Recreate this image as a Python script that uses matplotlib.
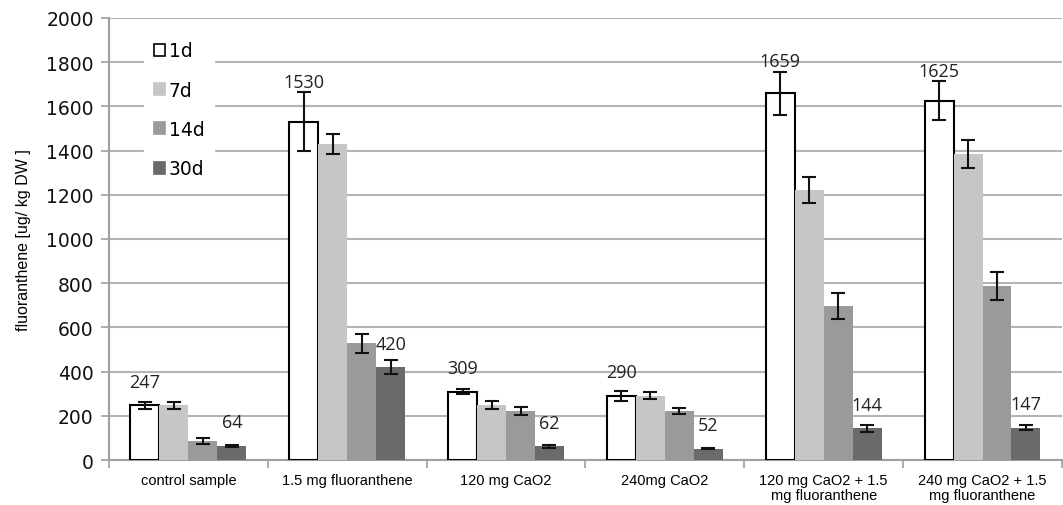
import numpy as np
import matplotlib
matplotlib.use("Agg")
import matplotlib.pyplot as plt

# groups on the x axis
categories = ["control sample", "1.5 mg fluoranthene", "120 mg CaO2", "240mg CaO2",
              "120 mg CaO2 + 1.5\nmg fluoranthene", "240 mg CaO2 + 1.5\nmg fluoranthene"]
series = ["1d", "7d", "14d", "30d"]

# mean values per series [ug/kg DW]
d1 = [247, 1530, 309, 290, 1659, 1625]
d7 = [248, 1430, 249, 290, 1222, 1385]
d14 = [86, 529, 222, 222, 697, 787]
d30 = [64, 420, 62, 52, 144, 147]

# error bar half widths
e1 = [17, 133, 12, 22, 98, 88]
e7 = [15, 45, 18, 16, 58, 62]
e14 = [15, 43, 18, 15, 58, 62]
e30 = [5, 32, 6, 4, 15, 12]

values = [d1, d7, d14, d30]
errors = [e1, e7, e14, e30]
fills = ["white", "#c6c6c6", "#9a9a9a", "#6a6a6a"]
edges = ["black", "#c6c6c6", "#9a9a9a", "#6a6a6a"]
labelled = [0, 3]  # only 1d and 30d get value labels

plt.rcParams['font.family'] = ['Liberation Sans', 'DejaVu Sans']

fig = plt.figure(figsize=(10.63, 5.06), dpi=100)
ax = fig.add_axes([0.1025, 0.0889, 0.8965, 0.8736])

x = np.arange(len(categories))
w = 0.1824
for i, (vals, errs) in enumerate(zip(values, errors)):
    pos = x + (i - 1.5) * w
    ax.bar(pos, vals, width=w, color=fills[i], edgecolor=edges[i],
           linewidth=1.5 if i == 0 else 0, label=series[i], zorder=3)
    ax.errorbar(pos, vals, yerr=errs, fmt="none", ecolor="#111111",
                elinewidth=1.5, capsize=5, capthick=1.5, zorder=4)
    if i in labelled:
        for p, v, e in zip(pos, vals, errs):
            ty = max(v + 106, v + e + 47)
            ax.text(p, ty, str(v), ha="center", va="center", fontsize=13,
                    family="Open Sans", color="#222222", zorder=5)

ax.set_xlim(-0.5, len(categories) - 0.5)
ax.set_ylim(0, 2000)
ax.set_yticks(np.arange(0, 2001, 200))
ax.tick_params(axis="y", labelsize=13.5, length=6, color="#a0a0a0", width=1.2, pad=5)
for lab in ax.get_yticklabels():
    lab.set_family("DejaVu Sans")
    lab.set_color("#111111")
ax.yaxis.grid(True, color="#b4b4b4", linewidth=1.5, zorder=0)
ax.set_axisbelow(True)

ax.set_xticks(x)
ax.set_xticklabels(categories, fontsize=10.5, linespacing=1.15)
ax.tick_params(axis="x", length=0, pad=9)
ax.set_xticks(np.arange(-0.5, len(categories) + 0.5, 1), minor=True)
ax.tick_params(axis="x", which="minor", length=6, color="#a0a0a0", width=1.2)

for s in ["top", "right"]:
    ax.spines[s].set_visible(False)
for s in ["left", "bottom"]:
    ax.spines[s].set_color("#a0a0a0")
    ax.spines[s].set_linewidth(1.5)

ax.set_ylabel("fluoranthene [ug/ kg DW ]", fontsize=11.5, labelpad=11)

leg = ax.legend(loc="upper left", bbox_to_anchor=(0.037, 0.968),
                prop={"family": "DejaVu Sans", "size": 13.5},
                frameon=True, fancybox=False, edgecolor="white", framealpha=1,
                handlelength=0.6, handleheight=0.6, handletextpad=0.2,
                labelspacing=1.08, borderpad=0.5, borderaxespad=0)
leg.set_zorder(6)
for h in leg.legend_handles:
    h.set_linewidth(1.2)

fig.savefig("out.png", dpi=100)
